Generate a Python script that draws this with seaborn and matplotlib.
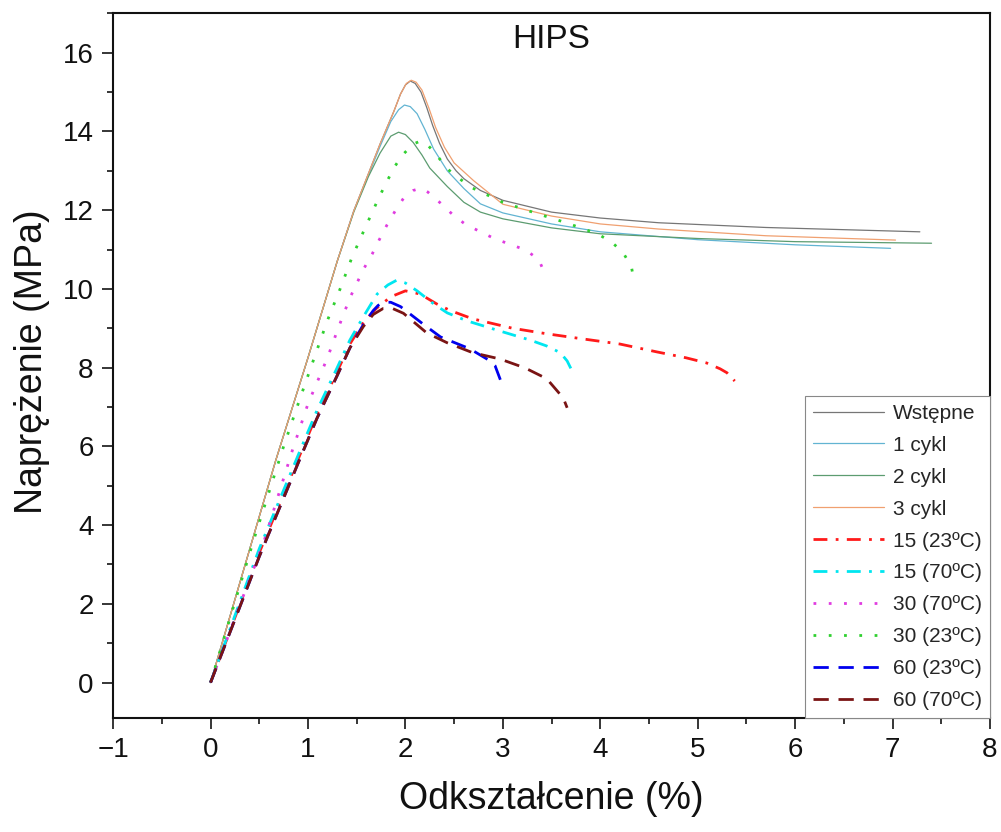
import numpy as np
import pandas as pd
import matplotlib
matplotlib.use("Agg")
import matplotlib.pyplot as plt
import seaborn as sns
from matplotlib.ticker import MultipleLocator

# ---------------- data ----------------
wst_x = [0, 0.67, 1.0, 1.3, 1.47, 1.74, 1.88, 1.95, 2.0, 2.05, 2.1, 2.16, 2.22, 2.28, 2.35,
         2.43, 2.52, 2.6, 2.77, 3.0, 3.5, 4.0, 4.6, 5.7, 7.28]
wst_y = [0, 5.65, 8.25, 10.7, 11.98, 13.68, 14.5, 14.95, 15.18, 15.28, 15.22, 15.0, 14.6, 14.15, 13.7,
         13.3, 13.0, 12.8, 12.5, 12.25, 11.95, 11.8, 11.68, 11.56, 11.45]

c1_x = [0, 0.67, 1.0, 1.3, 1.47, 1.74, 1.85, 1.93, 1.99, 2.05, 2.12, 2.2, 2.29, 2.43, 2.6, 2.77,
        3.0, 3.5, 4.0, 5.0, 6.0, 6.98]
c1_y = [0, 5.65, 8.25, 10.7, 11.98, 13.62, 14.25, 14.55, 14.67, 14.63, 14.45, 14.05, 13.55, 13.0, 12.55, 12.16,
        11.93, 11.65, 11.45, 11.25, 11.12, 11.03]

c2_x = [0, 0.67, 1.0, 1.3, 1.47, 1.62, 1.74, 1.85, 1.93, 2.0, 2.08, 2.17, 2.25, 2.43, 2.6, 2.77,
        3.0, 3.5, 4.0, 5.0, 6.0, 7.4]
c2_y = [0, 5.65, 8.25, 10.7, 11.95, 12.85, 13.45, 13.88, 13.98, 13.92, 13.72, 13.4, 13.07, 12.6, 12.2, 11.95,
        11.78, 11.55, 11.4, 11.28, 11.2, 11.16]

c3_x = [0, 0.67, 1.0, 1.3, 1.47, 1.74, 1.88, 1.95, 2.01, 2.06, 2.11, 2.17, 2.24, 2.31, 2.4,
        2.5, 2.7, 3.0, 3.5, 4.0, 4.6, 5.7, 7.03]
c3_y = [0, 5.65, 8.25, 10.7, 11.98, 13.68, 14.5, 14.95, 15.22, 15.3, 15.25, 15.05, 14.6, 14.1, 13.6,
        13.2, 12.75, 12.15, 11.85, 11.65, 11.52, 11.35, 11.24]

r15_23_x = [0, 0.5, 0.92, 1.09, 1.3, 1.43, 1.57, 1.7, 1.85, 2.0, 2.15, 2.32, 2.46, 2.69,
            3.1, 3.45, 3.82, 4.2, 4.58, 4.88, 5.09, 5.23, 5.3, 5.38]
r15_23_y = [0, 3.3, 5.8, 6.8, 7.9, 8.6, 9.15, 9.5, 9.8, 9.95, 9.87, 9.62, 9.45, 9.24,
            9.0, 8.86, 8.73, 8.6, 8.4, 8.25, 8.12, 7.97, 7.87, 7.66]

r15_70_x = [0, 0.5, 0.92, 1.09, 1.3, 1.43, 1.57, 1.71, 1.82, 1.91, 2.0, 2.12, 2.29, 2.43,
            2.63, 2.97, 3.28, 3.45, 3.59, 3.66, 3.71]
r15_70_y = [0, 3.4, 5.9, 6.9, 8.0, 8.7, 9.3, 9.87, 10.1, 10.22, 10.15, 9.95, 9.62, 9.39,
            9.19, 8.93, 8.7, 8.55, 8.38, 8.17, 7.92]

r30_70_x = [0, 0.55, 0.84, 1.0, 1.2, 1.31, 1.43, 1.57, 1.66, 1.73, 1.81, 1.9, 1.98, 2.08, 2.16,
            2.23, 2.36, 2.48, 2.61, 2.77, 2.92, 3.09, 3.24, 3.37, 3.44]
r30_70_y = [0, 3.6, 5.9, 7.08, 8.25, 9.0, 9.77, 10.5, 10.89, 11.24, 11.62, 12.0, 12.3, 12.5, 12.56,
            12.46, 12.18, 11.9, 11.65, 11.45, 11.27, 11.12, 10.98, 10.74, 10.33]

r30_23_x = [0, 0.44, 0.75, 0.92, 1.09, 1.2, 1.33, 1.45, 1.59, 1.73, 1.88, 1.97, 2.08, 2.15, 2.22,
            2.33, 2.43, 2.56, 2.69, 3.0, 3.33, 3.65, 3.97, 4.11, 4.23, 4.32, 4.35]
r30_23_y = [0, 3.6, 6.0, 7.23, 8.43, 9.2, 10.0, 10.79, 11.57, 12.33, 13.07, 13.4, 13.68, 13.75, 13.68,
            13.37, 13.05, 12.79, 12.56, 12.2, 11.93, 11.68, 11.4, 11.2, 10.94, 10.56, 10.15]

r60_23_x = [0, 0.5, 0.92, 1.09, 1.3, 1.43, 1.57, 1.67, 1.72, 1.78, 1.85, 1.95, 2.18, 2.36, 2.66,
            2.87, 2.92, 2.99]
r60_23_y = [0, 3.2, 5.7, 6.7, 7.8, 8.5, 9.1, 9.45, 9.58, 9.66, 9.66, 9.55, 9.11, 8.78, 8.48,
            8.17, 8.05, 7.59]

r60_70_x = [0, 0.5, 0.92, 1.09, 1.3, 1.43, 1.57, 1.67, 1.77, 1.87, 1.98, 2.22, 2.43, 2.69, 2.97,
            3.23, 3.45, 3.62, 3.66]
r60_70_y = [0, 3.2, 5.7, 6.7, 7.8, 8.5, 9.05, 9.35, 9.5, 9.5, 9.38, 8.88, 8.63, 8.38, 8.22,
            7.99, 7.72, 7.23, 6.98]

labels = ["Wstępne", "1 cykl", "2 cykl", "3 cykl", "15 (23ºC)", "15 (70ºC)",
          "30 (70ºC)", "30 (23ºC)", "60 (23ºC)", "60 (70ºC)"]
xs = [wst_x, c1_x, c2_x, c3_x, r15_23_x, r15_70_x, r30_70_x, r30_23_x, r60_23_x, r60_70_x]
ys = [wst_y, c1_y, c2_y, c3_y, r15_23_y, r15_70_y, r30_70_y, r30_23_y, r60_23_y, r60_70_y]

# ---------------- styles ----------------
colors = ["#767676", "#62b4d2", "#5c9c70", "#f0a070", "#ff1a1a", "#00e6f0",
          "#e03ce0", "#30d030", "#0000ee", "#7a1414"]
dashdot = (0, (5, 3, 1, 3))
dotted = (0, (1, 4.5))
dashed = (0, (5.5, 3.5))
styles = ["-", "-", "-", "-", dashdot, dashdot, dotted, dotted, dashed, dashed]
widths = [0.9, 0.9, 0.9, 0.9, 2.0, 2.0, 2.0, 2.0, 2.0, 2.0]

sns.set_style("ticks")
plt.rcParams["font.family"] = ["Liberation Sans", "DejaVu Sans"]

fig = plt.figure(figsize=(10.01, 8.32), dpi=100)
ax = fig.add_axes([0.113, 0.137, 0.876, 0.847])

for x, y, lab, c, ls, lw in zip(xs, ys, labels, colors, styles, widths):
    df = pd.DataFrame({"x": x, "y": y})
    sns.lineplot(data=df, x="x", y="y", ax=ax, color=c, linestyle=ls, linewidth=lw,
                 label=lab, sort=False, estimator=None)

ax.set_xlim(-1, 8)
ax.set_ylim(-0.9, 17)
ax.xaxis.set_major_locator(MultipleLocator(1))
ax.xaxis.set_minor_locator(MultipleLocator(0.5))
ax.yaxis.set_major_locator(MultipleLocator(2))
ax.yaxis.set_minor_locator(MultipleLocator(1))
ax.tick_params(which="major", direction="out", length=8, width=1.1, labelsize=20, pad=6,
               color="black", labelcolor="#111111")
ax.tick_params(which="minor", direction="out", length=4.5, width=1.1, color="black")
ax.tick_params(top=False, right=False, which="both")
for s in ax.spines.values():
    s.set_visible(True)
    s.set_linewidth(1.5)
    s.set_color("#111111")

ax.set_xlabel("Odkształcenie (%)", fontsize=27, color="#111111")
ax.set_ylabel("Naprężenie (MPa)", fontsize=27, color="#111111")
ax.xaxis.set_label_coords(0.5, -0.09)
ax.yaxis.set_label_coords(-0.072, 0.505)

ax.text(0.5, 0.985, "HIPS", transform=ax.transAxes, ha="center", va="top", fontsize=24,
        color="#111111")

handles, labs = ax.get_legend_handles_labels()
leg = ax.legend(handles, labs, loc="lower right", bbox_to_anchor=(1, 0), borderaxespad=0,
                fontsize=15, frameon=True, fancybox=False, edgecolor="#888888",
                framealpha=1, handlelength=3.4, handletextpad=0.45, labelspacing=0.62,
                borderpad=0.38)
leg.get_frame().set_linewidth(0.8)

fig.savefig("out.png", dpi=100)
